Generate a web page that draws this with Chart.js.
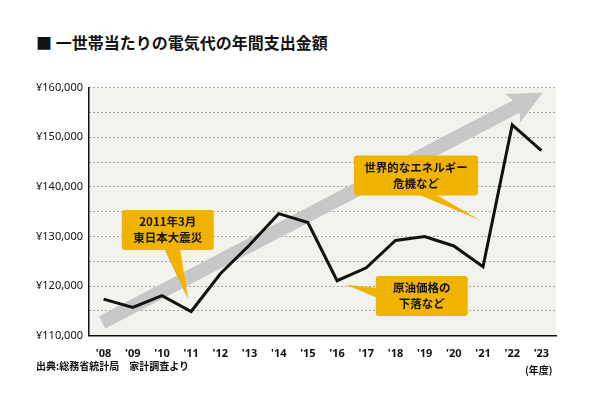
<!DOCTYPE html><html><head><meta charset="utf-8">
<script src="https://cdn.jsdelivr.net/npm/chart.js@4"></script>
<style>body{margin:0;background:#fff;width:600px;height:402px;overflow:hidden;font-family:"Noto Sans CJK JP",sans-serif}
#t{position:absolute;left:36px;top:30px;font-size:16px;font-weight:bold;color:#111}
#s{position:absolute;left:36px;top:358px;font-size:10px;font-weight:bold;color:#111}
#u{position:absolute;left:525px;top:362px;font-size:10px;font-weight:bold;color:#111}
#w{position:absolute;left:30px;top:75px;width:540px;height:288px}</style></head><body>
<div id="t">■ 一世帯当たりの電気代の年間支出金額</div>
<div id="w"><canvas id="c"></canvas></div>
<div id="s">出典:総務省統計局　家計調査より</div>
<div id="u">(年度)</div>
<script>
const years=["'08","'09","'10","'11","'12","'13","'14","'15","'16","'17","'18","'19","'20","'21","'22","'23"];
const costs=[117400,115700,118100,114900,122500,128300,134600,132800,121100,123700,129200,130000,128100,123900,152500,147300];
const yTicks=[110000,120000,130000,140000,150000,160000];
const notes=[
 {lines:["2011年3月","東日本大震災"],cx:2.2,cy:131300,w:92,h:40,px:2.9,py:117300,bx:-4,bx2:12},
 {lines:["原油価格の","下落など"],cx:10.9,cy:118000,w:92,h:40,px:8.3,py:120300,side:'left'},
 {lines:["世界的なエネルギー","危機など"],cx:10.7,cy:142300,w:124,h:40,px:12.9,py:133300,bx:0,bx2:18}
];
const deco={id:'deco',
 beforeDatasetsDraw(ch){const {ctx,scales:{x,y}}=ch;
  const x0=x.getPixelForValue(-0.05),y0=y.getPixelForValue(112700),x1=x.getPixelForValue(15.05),y1=y.getPixelForValue(159000);
  const a=Math.atan2(y1-y0,x1-x0),len=Math.hypot(x1-x0,y1-y0);
  ctx.save();ctx.translate(x0,y0);ctx.rotate(a);ctx.fillStyle='#c8c8c8';
  ctx.beginPath();ctx.moveTo(0,-7);ctx.lineTo(len-30,-7);ctx.lineTo(len-34,-16);ctx.lineTo(len,0);ctx.lineTo(len-34,16);ctx.lineTo(len-30,7);ctx.lineTo(0,7);ctx.closePath();ctx.fill();ctx.restore();},
 afterDatasetsDraw(ch){const {ctx,scales:{x,y}}=ch;
  notes.forEach(n=>{const cx=x.getPixelForValue(n.cx),cy=y.getPixelForValue(n.cy),px=x.getPixelForValue(n.px),py=y.getPixelForValue(n.py);
   ctx.fillStyle='#f0b400';ctx.beginPath();
   if(n.side==='left'){ctx.moveTo(cx-n.w/2+2,cy-8);ctx.lineTo(px,py);ctx.lineTo(cx-n.w/2+2,cy+2);}
   else{ctx.moveTo(cx+(n.bx||0),cy+n.h/2-2);ctx.lineTo(px,py);ctx.lineTo(cx+(n.bx2||8),cy+n.h/2-2);}
   ctx.fill();
   ctx.beginPath();ctx.roundRect(cx-n.w/2,cy-n.h/2,n.w,n.h,3);ctx.fill();
   ctx.fillStyle='#111';ctx.font='bold 11.5px "Noto Sans CJK JP"';ctx.textAlign='center';ctx.textBaseline='middle';
   n.lines.forEach((l,i)=>ctx.fillText(l,cx,cy+(i-0.5)*16));});}
};
new Chart(document.getElementById('c'),{type:'line',
 data:{labels:years,datasets:[{data:costs,borderColor:'#111',borderWidth:3,pointRadius:0,tension:0}]},
 options:{responsive:true,maintainAspectRatio:false,animation:false,
  layout:{padding:{top:10,right:14}},
  plugins:{legend:{display:false},tooltip:{enabled:false}},
  scales:{
   x:{offset:true,grid:{display:false},border:{color:'#111',width:1.5},
      ticks:{color:'#111',font:{size:11,weight:'bold',family:'Noto Sans'}}},
   y:{min:110000,max:160000,afterBuildTicks:s=>{s.ticks=[];for(let v=110000;v<=160000;v+=5000)s.ticks.push({value:v});},
      grid:{color:'#555',lineWidth:1,tickLength:0},border:{color:'#111',width:1.5,dash:[1,3]},
      ticks:{color:'#111',font:{size:11,family:'Noto Sans'},padding:6,callback:v=>yTicks.includes(v)?'¥'+v.toLocaleString('en-US'):''}}
  }},
 plugins:[{id:'bg',beforeDraw(ch){const {ctx,chartArea:a}=ch;ctx.fillStyle='#f2f2ee';ctx.fillRect(a.left,a.top,a.right-a.left,a.bottom-a.top);}},deco]
});
</script></body></html>
